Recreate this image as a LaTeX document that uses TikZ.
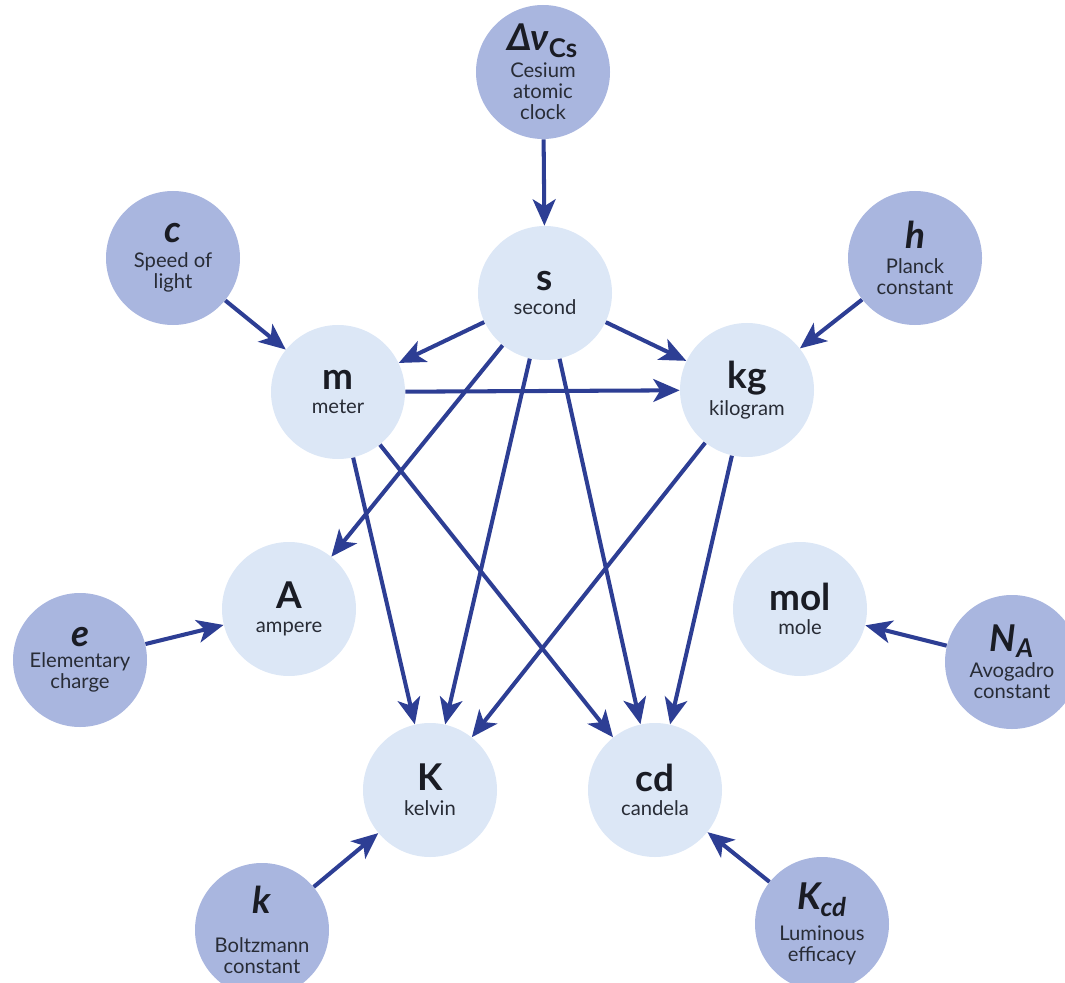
\documentclass[tikz,border=0pt]{standalone}
\usepackage{fontspec}
\setmainfont{Lato}
\definecolor{constfill}{RGB}{169,182,223}
\definecolor{unitfill}{RGB}{220,231,246}
\definecolor{arrblue}{RGB}{45,62,148}
\definecolor{inkdark}{RGB}{26,28,36}
\definecolor{inkgray}{RGB}{40,44,54}
\usetikzlibrary{arrows.meta}
\newcommand{\usym}[1]{{\fontsize{21}{21}\selectfont\bfseries\color{inkdark}#1}}
\newcommand{\csym}[1]{{\fontsize{21}{21}\selectfont\bfseries\itshape\color{inkdark}#1}}

\begin{document}
\begin{tikzpicture}[x=0.2mm, y=-0.2mm,
  unit/.style={circle, fill=unitfill, minimum size=26.8mm, inner sep=0pt, align=center, font=\fontsize{11.5}{12}\selectfont, text=inkgray},
  cnst/.style={unit, fill=constfill},
  arr/.style={-{Stealth[length=15pt, width=13pt, inset=4pt]}, line width=2.3pt, arrblue}
]
  \useasboundingbox (0,0) rectangle (1065,983);

  % ── Defining constants ──
  \node[cnst] (dnu) at (543,72) {\csym{Δν\textsubscript{\upshape Cs}}\\[2pt]Cesium\\atomic\\clock};
  \node[cnst] (lightc) at (173,258) {\csym{c}\\[2pt]Speed of\\light};
  \node[cnst] (planck) at (915,258) {\csym{h}\\[2pt]Planck\\constant};
  \node[cnst] (echarge) at (80,660) {\csym{e}\\[0pt]Elementary\\charge};
  \node[cnst] (avog) at (1012,662) {\csym{N\textsubscript{A}}\\[3pt]Avogadro\\constant};
  \node[cnst] (boltz) at (262,930) {\csym{k}\\[10pt]Boltzmann\\constant};
  \node[cnst] (lumeff) at (822,924) {\csym{K\textsubscript{cd}}\\[4pt]Luminous\\efficacy};

  % ── SI base units ──
  \node[unit] (sec) at (545,293) {\usym{s}\\[2pt]second};
  \node[unit] (met) at (338,392) {\usym{m}\\[2pt]meter};
  \node[unit] (kg) at (747,390) {\usym{kg}\\[2pt]kilogram};
  \node[unit] (amp) at (289,609) {\usym{A}\\[2pt]ampere};
  \node[unit] (mol) at (800,609) {\usym{mol}\\[2pt]mole};
  \node[unit] (kel) at (430,790) {\usym{K}\\[2pt]kelvin};
  \node[unit] (cd) at (655,790) {\usym{cd}\\[2pt]candela};

  % ── Constants fix units ──
  \draw[arr] (dnu) -- (sec);
  \draw[arr] (lightc) -- (met);
  \draw[arr] (planck) -- (kg);
  \draw[arr] (echarge) -- (amp);
  \draw[arr] (avog) -- (mol);
  \draw[arr] (boltz) -- (kel);
  \draw[arr] (lumeff) -- (cd);

  % ── Dependencies between units ──
  \draw[arr] (sec) -- (met);
  \draw[arr] (sec) -- (kg);
  \draw[arr] (sec) -- (amp);
  \draw[arr] (sec) -- (kel);
  \draw[arr] (sec) -- (cd);
  \draw[arr] (met) -- (kg);
  \draw[arr] (met) -- (kel);
  \draw[arr] (met) -- (cd);
  \draw[arr] (kg) -- (kel);
  \draw[arr] (kg) -- (cd);
\end{tikzpicture}
\end{document}
